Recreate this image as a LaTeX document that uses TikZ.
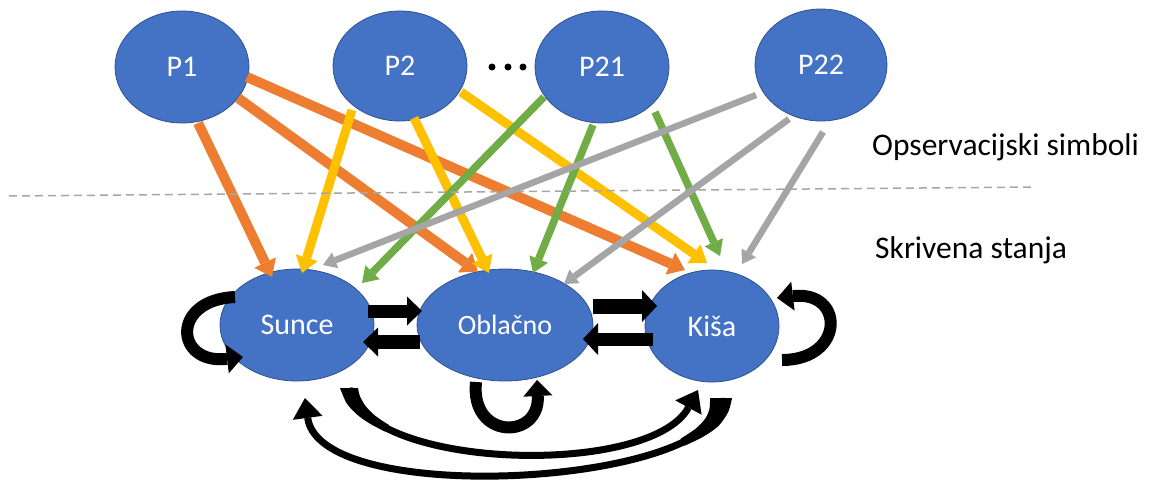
\documentclass[tikz,border=0pt]{standalone}
\usepackage{fontspec}
\setmainfont{Carlito}
\usetikzlibrary{shapes.geometric,arrows.meta,calc}
\definecolor{blu}{HTML}{4472C4}
\definecolor{bluedge}{HTML}{2F528F}
\definecolor{orng}{HTML}{ED7D31}
\definecolor{yell}{HTML}{FFC000}
\definecolor{grn}{HTML}{70AD47}
\definecolor{gry}{HTML}{A5A5A5}
\definecolor{dashgray}{HTML}{A6A6A6}
\begin{document}
\begin{tikzpicture}[x=1pt,y=-1pt,
  st/.style={ellipse, fill=blu, draw=bluedge, line width=0.8pt, inner sep=0pt, text=white, minimum height=112pt},
  lbl/.style={font=\fontsize{30}{36}\selectfont},
  oarr/.style={draw=orng, line width=10pt, -{Triangle[width=24pt,length=16pt,line width=0pt]}},
  yarr/.style={draw=yell, line width=9pt, -{Triangle[width=23pt,length=16pt,line width=0pt]}},
  garr/.style={draw=grn, line width=7.5pt, -{Triangle[width=20pt,length=15pt,line width=0pt]}},
  carr/.style={draw=gry, line width=6.5pt, -{Triangle[width=17pt,length=13pt,line width=0pt]}},
  blk/.style={draw=black, line width=13pt, -{Triangle[width=29pt,length=15pt,line width=0pt]}},
  loopar/.style={draw=black, line width=12pt, -{Triangle[width=29pt,length=16pt,line width=0pt]}},
  arcar/.style={draw=black, line width=7pt, -{Triangle[width=30pt,length=20pt,line width=0pt]}},
  note/.style={font=\fontsize{31.5}{38}\selectfont, anchor=base west, inner sep=0pt},
  sep/.style={draw=dashgray, line width=1.5pt, dash pattern=on 8pt off 5pt}
]
\useasboundingbox (0,0) rectangle (1153,480);
% observation symbols
\node[st, lbl, minimum width=134pt] (p1) at (182,67) {P1};
\node[st, lbl, minimum width=134pt, minimum height=110pt] (p2) at (400,66) {P2};
\node[st, lbl, minimum width=134pt] (p21) at (602,67) {P21};
\node[st, lbl, minimum width=132pt] (p22) at (821,65) {P22};
\fill (492,67) circle (3.5) (508,67) circle (3.5) (523,67) circle (3.5);
% hidden states
\node[st, lbl, minimum width=154pt] (sunce) at (297,325) {Sunce};
\node[st, font=\fontsize{28}{34}\selectfont, minimum width=176pt] (obl) at (505,325) {Oblačno};
\node[st, lbl, minimum width=134pt] (kisa) at (712,326) {Kiša};
% labels
\node[note] (obs) at (872,155) {Opservacijski simboli};
\node[note] (hid) at (875,258) {Skrivena stanja};
% emission arrows
\draw[oarr] ($(p1)+(16,56)$) -- ($(sunce)+(-25,-48)$);
\draw[oarr] ($(p1)+(56,31)$) -- ($(obl)+(-27,-53)$);
\draw[oarr] ($(p1)+(65,10)$) -- ($(kisa)+(-27,-56)$);
\draw[yarr] ($(p2)+(-48,44)$) -- ($(sunce)+(5,-52)$);
\draw[yarr] ($(p2)+(14,52)$) -- ($(obl)+(-16,-52)$);
\draw[yarr] ($(p2)+(61,26)$) -- ($(kisa)+(-5,-63)$);
\draw[garr] ($(p21)+(-58,30)$) -- ($(sunce)+(65,-42)$);
\draw[garr] ($(p21)+(-9,58)$) -- ($(obl)+(28,-52)$);
\draw[garr] ($(p21)+(53,45)$) -- ($(kisa)+(8,-70)$);
\draw[carr] ($(p22)+(-65,30)$) -- ($(sunce)+(26,-60)$);
\draw[carr] ($(p22)+(-32,54)$) -- ($(obl)+(59,-41)$);
\draw[carr] ($(p22)+(2,67)$) -- ($(kisa)+(30,-62)$);
% separator
\coordinate (sepl) at (9,196);
\coordinate (sepr) at (1035,187);
\draw[sep] (sepl) -- (sepr);
% transitions between states
\draw[blk] ($(sunce)+(71,-14)$) -- ($(obl)+(-83,-14)$);
\draw[blk, line width=14pt] ($(obl)+(-85,17)$) -- ($(sunce)+(66,17)$);
\draw[blk, line width=15pt, -{Triangle[width=32pt,length=15pt,line width=0pt]}] ($(obl)+(88,-19)$) -- ($(kisa)+(-55,-20)$);
\draw[blk, -{Triangle[width=32pt,length=15pt,line width=0pt]}] ($(kisa)+(-59,13)$) -- ($(obl)+(78,14)$);
% self loops
\draw[loopar] ($(sunce)+(-62,-28)$) .. controls ($(sunce)+(-127,-25)$) and ($(sunce)+(-122,40)$) .. ($(sunce)+(-54,32)$);
\draw[loopar] ($(kisa)+(70,34)$) .. controls ($(kisa)+(133,34)$) and ($(kisa)+(133,-36)$) .. ($(kisa)+(65,-28)$);
\draw[loopar] ($(obl)+(-29,57)$) .. controls ($(obl)+(-35,115)$) and ($(obl)+(35,115)$) .. ($(obl)+(32,55)$);
% long transitions
\draw[arcar] ($(sunce)+(52,63)$) .. controls ($(sunce)+(68,145)$) and ($(kisa)+(-62,152)$) .. ($(kisa)+(-14,64)$);
\fill plot[smooth] coordinates {($(sunce)+(43,63)$) ($(sunce)+(49.7,78.3)$) ($(sunce)+(60.1,89.6)$) ($(sunce)+(73,98.7)$) ($(sunce)+(88,106.5)$)}
  -- plot[smooth] coordinates {($(sunce)+(91.8,99.9)$) ($(sunce)+(78.4,90.9)$) ($(sunce)+(68.7,81.2)$) ($(sunce)+(62.9,71.1)$) ($(sunce)+(61,63)$)} -- cycle;
\draw[arcar] ($(kisa)+(9,72)$) .. controls ($(kisa)+(18,159)$) and ($(sunce)+(23,185)$) .. ($(sunce)+(8,73)$);
\fill plot[smooth] coordinates {($(kisa)+(20,72)$) ($(kisa)+(16.3,85.8)$) ($(kisa)+(6.4,100)$) ($(kisa)+(-9.1,110.9)$) ($(kisa)+(-27.4,119.7)$)}
  -- plot[smooth] coordinates {($(kisa)+(-31.4,112.7)$) ($(kisa)+(-16.1,102.5)$) ($(kisa)+(-6.6,92.4)$) ($(kisa)+(-2.5,82.6)$) ($(kisa)+(-2,72)$)} -- cycle;
\end{tikzpicture}
\end{document}
